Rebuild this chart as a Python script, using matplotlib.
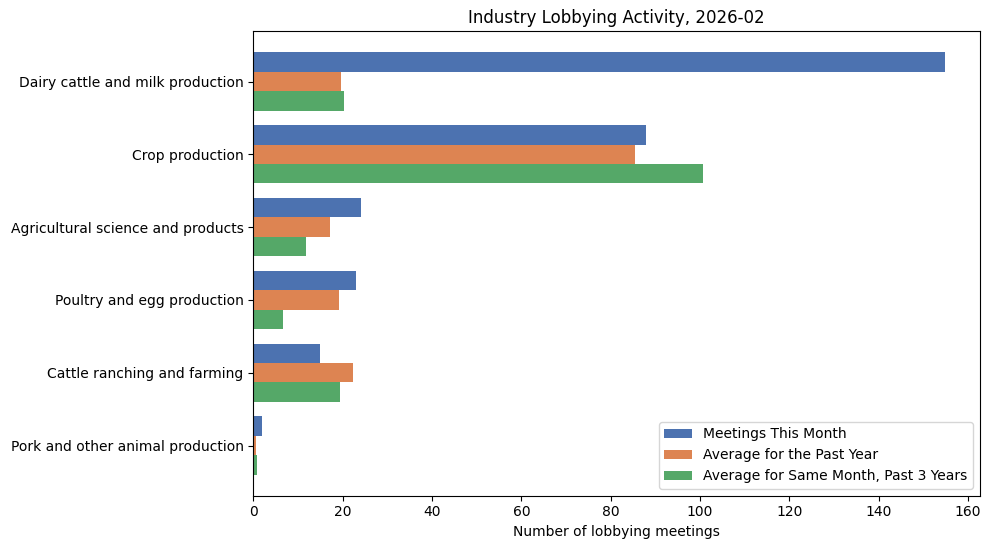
import matplotlib
matplotlib.use("Agg")
import matplotlib.pyplot as plt
import numpy as np

categories = ["Dairy cattle and milk production", "Crop production",
              "Agricultural science and products", "Poultry and egg production",
              "Cattle ranching and farming", "Pork and other animal production"]
meetings_this_month = [155, 88, 24, 23, 15, 2]
avg_past_year = [19.6, 85.4, 17.2, 19.2, 22.2, 0.6]
avg_same_month_3y = [20.3, 100.7, 11.7, 6.7, 19.3, 0.7]
series_labels = ["Meetings This Month", "Average for the Past Year",
                 "Average for Same Month, Past 3 Years"]
colors = ["#4c72b0", "#dd8452", "#55a868"]

fig, ax = plt.subplots(figsize=(9.9, 5.49), dpi=100)
y = np.arange(len(categories))
h = 0.8 / 3
for i, (vals, lab) in enumerate(zip([meetings_this_month, avg_past_year, avg_same_month_3y], series_labels)):
    ax.barh(y + (i - 1) * h, vals, height=h, color=colors[i], label=lab)
ax.set_yticks(y)
ax.set_yticklabels(categories)
ax.invert_yaxis()
ax.set_xlabel("Number of lobbying meetings")
ax.set_title("Industry Lobbying Activity, 2026-02")
ax.legend(loc="lower right")
fig.subplots_adjust(left=0.256, right=0.99, top=0.943, bottom=0.097)
fig.savefig("out.png", dpi=100)
